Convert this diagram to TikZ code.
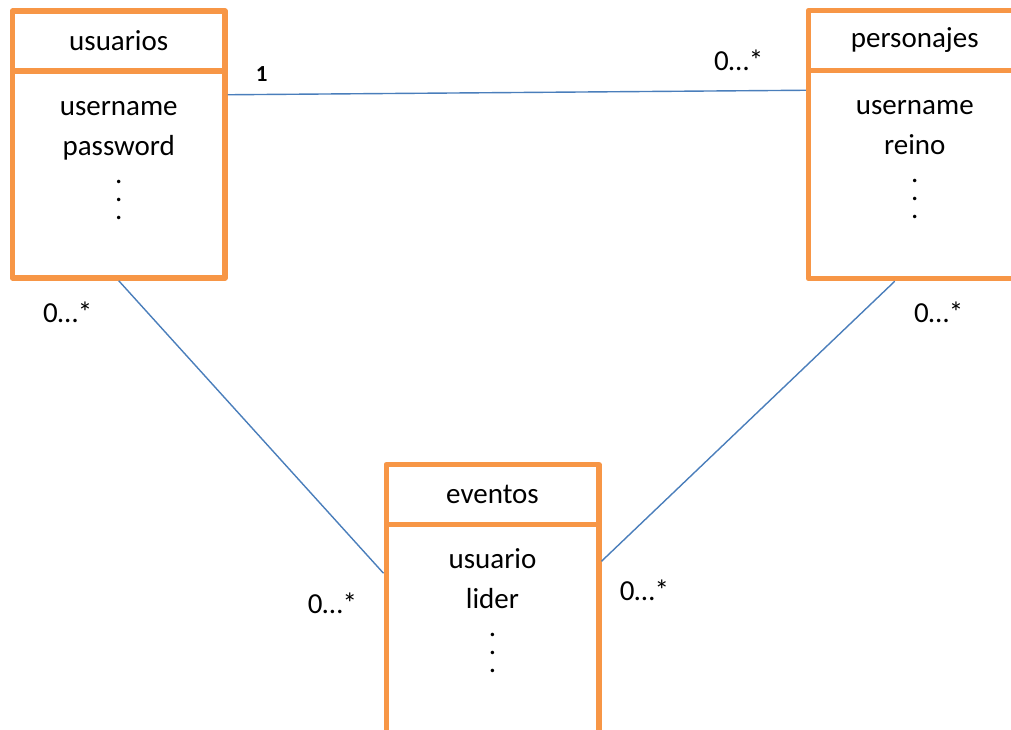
\documentclass[tikz,border=0pt]{standalone}
\usepackage{fontspec}
\setmainfont{Carlito}
\usepackage{tikz}
\usetikzlibrary{calc,positioning}
\definecolor{boxorange}{RGB}{247,150,70}
\definecolor{linkblue}{RGB}{74,126,187}

\begin{document}
\begin{tikzpicture}[x=1pt,y=1pt,
    every node/.style={font=\fontsize{29}{40}\selectfont},
    boxtitle/.style={draw=boxorange,line width=5.5pt,line join=round,minimum width=212.5pt,minimum height=60pt,inner sep=0pt},
    boxbody/.style={boxtitle,minimum height=#1},
    attrs/.style={align=center,anchor=base,inner sep=0pt},
    link/.style={linkblue,line width=1.4pt},
    card/.style={inner sep=0pt,text=black}]
  \useasboundingbox (0,0) rectangle (1011,-729);
  \clip (0,0) rectangle (1011,-729);
  % usuarios
  \node[boxtitle] (utitle) at (118.75,-41) {usuarios};
  \node[boxbody=207pt,below=-5.5pt of utitle] (ubody) {};
  % base sits on the last row of dots
  \node[attrs] (uattr) at ([yshift=-150.75pt]ubody.north) {username\\password\\[-12pt].\\[-22pt].\\[-22pt].};
  % personajes
  \node[boxtitle] (ptitle) at (914.75,-40.5) {personajes};
  \node[boxbody=208pt,below=-5.5pt of ptitle] (pbody) {};
  \node[attrs] (pattr) at ([yshift=-150.75pt]pbody.north) {username\\reino\\[-12pt].\\[-22pt].\\[-22pt].};
  % eventos
  \node[boxtitle] (etitle) at (492.5,-494.5) {eventos};
  \node[boxbody=300pt,below=-5.5pt of etitle] (ebody) {};
  \node[attrs] (eattr) at ([yshift=-150.75pt]ebody.north) {usuario\\lider\\[-12pt].\\[-22pt].\\[-22pt].};
  % relaciones
  \draw[link] ([yshift=-26.5pt]ubody.north east) -- ([yshift=-22.5pt]pbody.north west)
    node[card,at start,xshift=34pt,yshift=21pt,font=\fontsize{23}{26}\selectfont\bfseries] {1}
    node[card,at end,xshift=-67pt,yshift=30pt] {0…*};
  \draw[link] (ubody.south) -- ([yshift=-51.5pt]ebody.north west)
    node[card,at start,xshift=-51pt,yshift=-32pt] {0…*}
    node[card,at end,xshift=-51pt,yshift=-30pt] {0…*};
  \draw[link] ([xshift=-20pt]pbody.south) -- ([yshift=-39.5pt]ebody.north east)
    node[card,at start,xshift=44pt,yshift=-31pt] {0…*}
    node[card,at end,xshift=43pt,yshift=-29pt] {0…*};
\end{tikzpicture}
\end{document}
